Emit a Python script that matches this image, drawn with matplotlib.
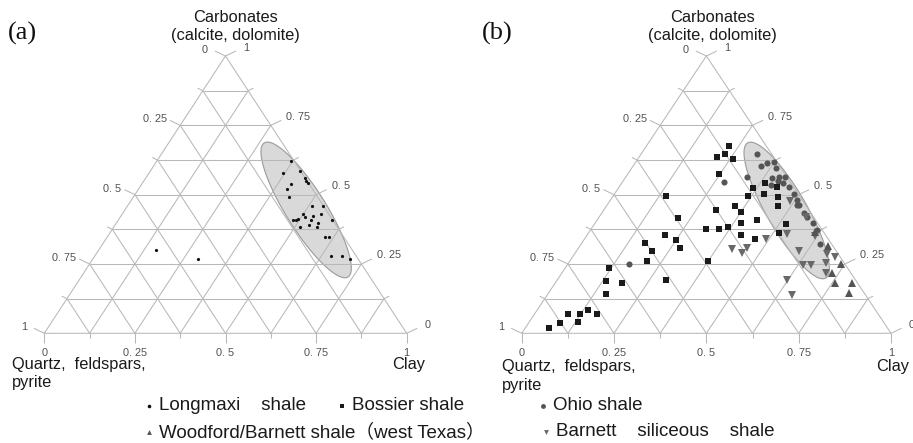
import numpy as np
import matplotlib
matplotlib.use("Agg")
import matplotlib.pyplot as plt
from matplotlib.patches import Polygon

# ---------------- data: fractions (clay, carbonate); quartz+feldspar+pyrite = 1 - clay - carbonate
longmaxi_clay = [0.370, 0.369, 0.413, 0.439, 0.448, 0.458, 0.410, 0.409, 0.430, 0.510, 0.539,
                 0.500, 0.531, 0.511, 0.549, 0.481, 0.490, 0.494, 0.530, 0.590, 0.557, 0.515,
                 0.535, 0.561, 0.601, 0.611, 0.651, 0.682, 0.710, 0.160, 0.290]
longmaxi_carb = [0.620, 0.579, 0.586, 0.560, 0.551, 0.541, 0.539, 0.519, 0.490, 0.460, 0.460,
                 0.430, 0.423, 0.419, 0.430, 0.409, 0.409, 0.413, 0.410, 0.409, 0.399, 0.382,
                 0.389, 0.382, 0.349, 0.349, 0.279, 0.279, 0.269, 0.299, 0.269]

bossier_clay = [0.224, 0.210, 0.227, 0.259, 0.248, 0.388, 0.366, 0.427, 0.406, 0.366, 0.448,
                0.463, 0.304, 0.348, 0.375, 0.434, 0.395, 0.518, 0.311, 0.346, 0.366, 0.514,
                0.418, 0.462, 0.373, 0.143, 0.215, 0.211, 0.249, 0.274, 0.171, 0.203, 0.210,
                0.119, 0.132, 0.180, 0.296, 0.158, 0.090, 0.124, 0.138, 0.169, 0.086, 0.132,
                0.065]
bossier_carb = [0.674, 0.637, 0.648, 0.627, 0.574, 0.542, 0.523, 0.527, 0.502, 0.494, 0.490,
                0.460, 0.446, 0.460, 0.437, 0.409, 0.397, 0.395, 0.376, 0.376, 0.384, 0.363,
                0.353, 0.340, 0.262, 0.494, 0.415, 0.354, 0.336, 0.309, 0.325, 0.298, 0.261,
                0.234, 0.190, 0.182, 0.191, 0.142, 0.070, 0.069, 0.084, 0.068, 0.036, 0.042,
                0.019]

ohio_clay = [0.313, 0.346, 0.359, 0.374, 0.392, 0.327, 0.276, 0.398, 0.414, 0.432, 0.420,
             0.436, 0.407, 0.459, 0.486, 0.505, 0.514, 0.520, 0.547, 0.564, 0.590, 0.613,
             0.647, 0.165]
ohio_carb = [0.647, 0.603, 0.613, 0.619, 0.595, 0.565, 0.544, 0.559, 0.563, 0.563, 0.550,
             0.543, 0.535, 0.527, 0.502, 0.481, 0.463, 0.463, 0.435, 0.418, 0.397, 0.373,
             0.322, 0.251]

woodford_clay = [0.671, 0.740, 0.732, 0.758, 0.805, 0.813, 0.611]
woodford_carb = [0.316, 0.249, 0.217, 0.181, 0.181, 0.144, 0.364]

barnett_clay = [0.489, 0.559, 0.618, 0.539, 0.492, 0.418, 0.455, 0.451, 0.602, 0.684, 0.710,
                0.639, 0.662, 0.698, 0.715, 0.622, 0.662]
barnett_carb = [0.476, 0.419, 0.351, 0.359, 0.341, 0.305, 0.309, 0.291, 0.298, 0.287, 0.275,
                0.246, 0.245, 0.254, 0.216, 0.191, 0.139]

# shaded ellipses (centre as clay, carbonate)
ellipse_a_center = [0.500, 0.445]
ellipse_b_center = [0.496, 0.443]

tick_values = [0, 0.25, 0.5, 0.75, 1]
tick_labels = ["0", "0. 25", "0. 5", "0. 75", "1"]

legend_labels = ["Longmaxi    shale", "Bossier shale", "Ohio shale",
                 "Woodford/Barnett shale\uff08west Texas\uff09", "Barnett    siliceous    shale"]

# ---------------- figure
FW, FH = 913, 443
fig = plt.figure(figsize=(FW / 100, FH / 100), dpi=100)
GRID = "#b8b8b8"
SANS = ["Liberation Sans", "DejaVu Sans"]
LEGF = ["Liberation Sans", "Noto Sans CJK SC", "DejaVu Sans"]


def tern_xy(clay, carb):
    clay = np.asarray(clay, float)
    carb = np.asarray(carb, float)
    return clay + carb / 2.0, carb


def fmt(v):
    return tick_labels[tick_values.index(v)]


def draw_panel(left, right, top, base):
    W = right - left
    H = base - top
    ax = fig.add_axes([left / FW, 1 - base / FH, W / FW, H / FH])
    ax.set_xlim(0, 1)
    ax.set_ylim(0, 1)
    ax.axis("off")
    kw = dict(color=GRID, lw=0.75, clip_on=False, zorder=2, solid_capstyle="butt")
    ax.plot([0, 1, 0.5, 0], [0, 0, 1, 0], **kw)
    for i in range(1, 8):
        t = i / 8
        ax.plot([t / 2, 1 - t / 2], [t, t], **kw)
        ax.plot([t, t + (1 - t) / 2], [0, 1 - t], **kw)
        ax.plot([1 - t, (1 - t) / 2], [0, 1 - t], **kw)
    tkw = dict(textcoords="offset pixels", fontsize=7.8, color="#505050",
               family=SANS, annotation_clip=False)
    for i in range(9):
        c = i / 8
        big = (i % 2 == 0)
        f = 1.0 if big else 0.5
        dx, dy = -10.5 * f / W, 5.0 * f / H
        xl, yl = c / 2, c
        xr = 1 - c / 2
        ax.plot([xl, xl + dx], [yl, yl + dy], **kw)
        ax.plot([xr, xr - dx], [yl, yl + dy], **kw)
        ax.plot([c, c], [0, -10 * f / H], **kw)
        if big:
            single = c in (0, 1)
            ax.annotate(fmt(1 - c), xy=(xl + dx, yl + dy),
                        xytext=(-7 if single else -3, 1),
                        ha="right", va="center", **tkw)
            ax.annotate(fmt(c), xy=(xr - dx, yl + dy),
                        xytext=(7 if single else 5, 3.5),
                        ha="left", va="center", **tkw)
            ax.annotate(fmt(c), xy=(c, 0), xytext=(0, -20),
                        ha="center", va="center", **tkw)
    return ax, W, H


def draw_ellipse(ax, W, H, center, a, b, ang):
    cx, cy = tern_xy(center[0], center[1])
    th = np.linspace(0, 2 * np.pi, 300)
    phi = np.deg2rad(ang)
    ex = a * np.cos(th) * np.cos(phi) - b * np.sin(th) * np.sin(phi)
    ey = a * np.cos(th) * np.sin(phi) + b * np.sin(th) * np.cos(phi)
    poly = Polygon(np.column_stack([cx + ex / W, cy + ey / H]), closed=True,
                   fc="#d9d9d9", ec="#9a9a9a", lw=0.8, zorder=1, clip_on=False)
    ax.add_patch(poly)


def ftext(x, y, s, **kw):
    fig.text(x / FW, 1 - y / FH, s, **kw)


# ---------------- panel (a)
axA, WA, HA = draw_panel(44.3, 406.7, 56.0, 333.3)
draw_ellipse(axA, WA, HA, ellipse_a_center, 79, 20, -58)
x, y = tern_xy(longmaxi_clay, longmaxi_carb)
axA.plot(x, y, "o", ms=2.3, color="#111111", mew=0, zorder=3, clip_on=False)

# ---------------- panel (b)
axB, WB, HB = draw_panel(521.7, 891.0, 56.0, 333.3)
draw_ellipse(axB, WB, HB, ellipse_b_center, 78, 20, -60)
x, y = tern_xy(bossier_clay, bossier_carb)
axB.plot(x, y, "s", ms=4.1, color="#1a1a1a", mew=0, zorder=4, clip_on=False)
x, y = tern_xy(ohio_clay, ohio_carb)
axB.plot(x, y, "o", ms=4.4, color="#555555", mew=0, zorder=3, clip_on=False)
x, y = tern_xy(barnett_clay, barnett_carb)
axB.plot(x, y, "v", ms=5.4, color="#686868", mew=0, zorder=3, clip_on=False)
x, y = tern_xy(woodford_clay, woodford_carb)
axB.plot(x, y, "^", ms=5.4, color="#555555", mew=0, zorder=3, clip_on=False)

# ---------------- texts
tk = dict(family=SANS, fontsize=11.8, color="#1a1a1a", va="center")
for cx, lab, lx in [(235, "(a)", 8), (712, "(b)", 481.7)]:
    ftext(lx, 33, lab, family=["Liberation Serif", "DejaVu Serif"], fontsize=19,
          color="#111111", va="center", ha="left")
    ftext(cx, 18, "Carbonates", ha="center", **tk)
    ftext(cx, 35.5, "(calcite, dolomite)", ha="center", **tk)
for qx, qy, clx, py in [(11.7, 365, 425, 18), (501.7, 366.7, 909, 19)]:
    ftext(qx, qy, "Quartz,  feldspars,", ha="left", **tk)
    ftext(qx, qy + py, "pyrite", ha="left", **tk)
    ftext(clx, qy, "Clay", ha="right", **tk)

# ---------------- legend (overlay in pixel space)
leg = fig.add_axes([0, 0, 1, 1], facecolor="none")
leg.set_xlim(0, FW)
leg.set_ylim(FH, 0)
leg.axis("off")
legend_markers = ["o", "s", "o", "^", "v"]
legend_colors = ["#111111", "#1a1a1a", "#555555", "#555555", "#686868"]
legend_sizes = [2.6, 3.3, 3.5, 3.5, 3.5]
legend_pos = [(149, 406), (342, 406), (543, 406), (149, 432), (546, 432)]
for lab, m, col, ms, (px, py) in zip(legend_labels, legend_markers, legend_colors,
                                     legend_sizes, legend_pos):
    leg.plot([px], [py], m, ms=ms, color=col, mew=0)
    leg.text(px + 10, py, lab, family=LEGF, fontsize=13.5, color="#1a1a1a",
             va="center", ha="left")

fig.savefig("out.png", dpi=100)
